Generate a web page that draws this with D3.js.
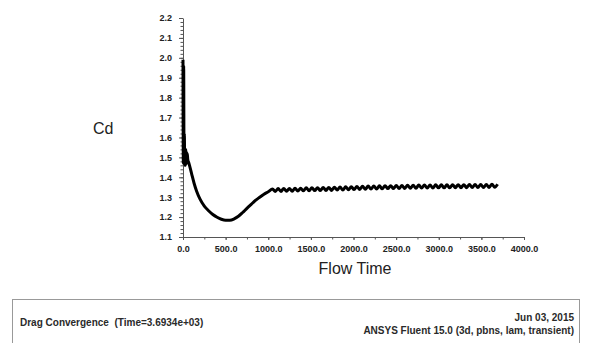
<!DOCTYPE html>
<html lang="en">
<head>
    <meta charset="UTF-8">
    <title>Drag Convergence</title>
    <script src="https://d3js.org/d3.v7.min.js"></script>
    <style>
        body { margin: 0; background: #fff; }
        svg { display: block; font-family: "Liberation Sans", Arial, sans-serif; }
    </style>
</head>
<body>
    <svg width="591" height="343"></svg>
    <script>
        // start-up transient: spike and first decay (flow time, Cd)
        const startTime = [0, 4, 8, 12, 16, 20, 24, 28, 32, 36, 40, 44, 50, 56, 70, 100, 130, 160, 200, 250,
                           300, 350, 400, 450, 500, 550, 600, 650, 700, 750, 800, 850, 900, 950, 1000]
        const startCd = [1.99, 1.47, 1.96, 1.48, 1.62, 1.46, 1.54, 1.46, 1.54, 1.47, 1.53, 1.47, 1.52, 1.49, 1.47, 1.42, 1.37, 1.33, 1.29, 1.255,
                         1.232, 1.213, 1.199, 1.189, 1.184, 1.184, 1.191, 1.204, 1.223, 1.244, 1.264, 1.284, 1.300, 1.315, 1.327]

        // periodic part: alternate crest / trough
        const waveTime = [1050, 1083, 1116, 1149, 1182, 1215, 1248, 1281, 1314, 1347, 1380,
                          1413, 1446, 1479, 1512, 1545, 1578, 1611, 1644, 1677, 1710, 1743, 1776,
                          1809, 1842, 1875, 1908, 1941, 1974, 2007, 2040, 2073, 2106, 2139, 2172,
                          2205, 2238, 2271, 2304, 2337, 2370, 2403, 2436, 2469, 2502, 2535, 2568,
                          2601, 2634, 2667, 2700, 2733, 2766, 2799, 2832, 2865, 2898, 2931, 2964,
                          2997, 3030, 3063, 3096, 3129, 3162, 3195, 3228, 3261, 3294, 3327, 3360,
                          3393, 3426, 3459, 3492, 3525, 3558, 3591, 3624, 3657, 3690]
        const waveCd = [1.341, 1.329, 1.343, 1.329, 1.344, 1.330, 1.344, 1.330, 1.345, 1.331, 1.345,
                        1.332, 1.347, 1.332, 1.348, 1.333, 1.348, 1.333, 1.349, 1.334, 1.349, 1.334, 1.350,
                        1.336, 1.351, 1.336, 1.352, 1.337, 1.353, 1.338, 1.354, 1.339, 1.355, 1.340, 1.356,
                        1.341, 1.356, 1.341, 1.357, 1.342, 1.358, 1.343, 1.358, 1.343, 1.359, 1.344, 1.359,
                        1.344, 1.360, 1.345, 1.360, 1.345, 1.361, 1.346, 1.361, 1.346, 1.361, 1.346, 1.362,
                        1.347, 1.362, 1.347, 1.362, 1.347, 1.363, 1.348, 1.363, 1.348, 1.363, 1.348, 1.364,
                        1.349, 1.364, 1.349, 1.364, 1.349, 1.364, 1.349, 1.365, 1.350, 1.365]

        const xTicks = [0, 500, 1000, 1500, 2000, 2500, 3000, 3500, 4000]
        const yTicks = [1.1, 1.2, 1.3, 1.4, 1.5, 1.6, 1.7, 1.8, 1.9, 2.0, 2.1, 2.2]

        const data = startTime.map((t, i) => ({x: t, y: startCd[i]}))
            .concat(waveTime.map((t, i) => ({x: t, y: waveCd[i]})))

        const svg = d3.select("svg")
        const fmt = d3.format(".1f")

        const xScale = d3.scaleLinear().domain([0, 4000]).range([183, 524])
        const yScale = d3.scaleLinear().domain([1.1, 2.2]).range([237, 18])

        // minor ticks first so major ones sit on top
        svg.append("g")
            .attr("transform", "translate(0,237)")
            .call(d3.axisBottom(xScale).tickValues(d3.range(0, 4001, 250)).tickSize(2.5).tickFormat(""))
            .call(g => g.select(".domain").remove())
        svg.append("g")
            .attr("transform", "translate(183,0)")
            .call(d3.axisLeft(yScale).tickValues(d3.range(110, 221, 2).map(v => v / 100)).tickSize(2.5).tickFormat(""))
            .call(g => g.select(".domain").remove())

        svg.append("g")
            .attr("transform", "translate(0,237)")
            .call(d3.axisBottom(xScale).tickValues(xTicks).tickSize(3).tickSizeOuter(0).tickPadding(6).tickFormat(fmt))
        svg.append("g")
            .attr("transform", "translate(183,0)")
            .call(d3.axisLeft(yScale).tickValues(yTicks).tickSize(4).tickSizeOuter(0).tickPadding(7).tickFormat(fmt))

        svg.selectAll(".tick line").attr("stroke", "#555")
        svg.selectAll(".domain").attr("stroke", "#555")
        svg.selectAll(".tick text")
            .attr("fill", "#222")
            .style("font-size", "9px")
            .style("font-weight", "bold")
            .style("font-family", "'Liberation Sans', Arial, sans-serif")

        const line = d3.line()
            .x(d => xScale(d.x))
            .y(d => yScale(d.y))
            .curve(d3.curveMonotoneX)

        svg.append("path")
            .datum(data)
            .attr("fill", "none")
            .attr("stroke", "#000")
            .attr("stroke-width", 3)
            .attr("stroke-linejoin", "round")
            .attr("d", line)

        // axis titles
        svg.append("text")
            .attr("x", 93).attr("y", 134)
            .style("font-size", "16px")
            .attr("fill", "#222")
            .text("Cd")
        svg.append("text")
            .attr("x", 355).attr("y", 274)
            .attr("text-anchor", "middle")
            .style("font-size", "16px")
            .attr("fill", "#222")
            .text("Flow Time")

        // footer box
        svg.append("rect")
            .attr("x", 12.5).attr("y", 299.5)
            .attr("width", 567).attr("height", 60)
            .attr("fill", "none")
            .attr("stroke", "#999")
        const foot = svg.append("g")
            .style("font-size", "10px").style("font-weight", "bold")
            .attr("fill", "#2a2a2a")
        foot.append("text")
            .attr("x", 20).attr("y", 326)
            .text("Drag Convergence\u00a0\u00a0(Time=3.6934e+03)")
        foot.append("text")
            .attr("x", 574).attr("y", 321)
            .attr("text-anchor", "end")
            .text("Jun 03, 2015")
        foot.append("text")
            .attr("x", 574).attr("y", 334)
            .attr("text-anchor", "end")
            .text("ANSYS Fluent 15.0 (3d, pbns, lam, transient)")
    </script>
</body>
</html>
